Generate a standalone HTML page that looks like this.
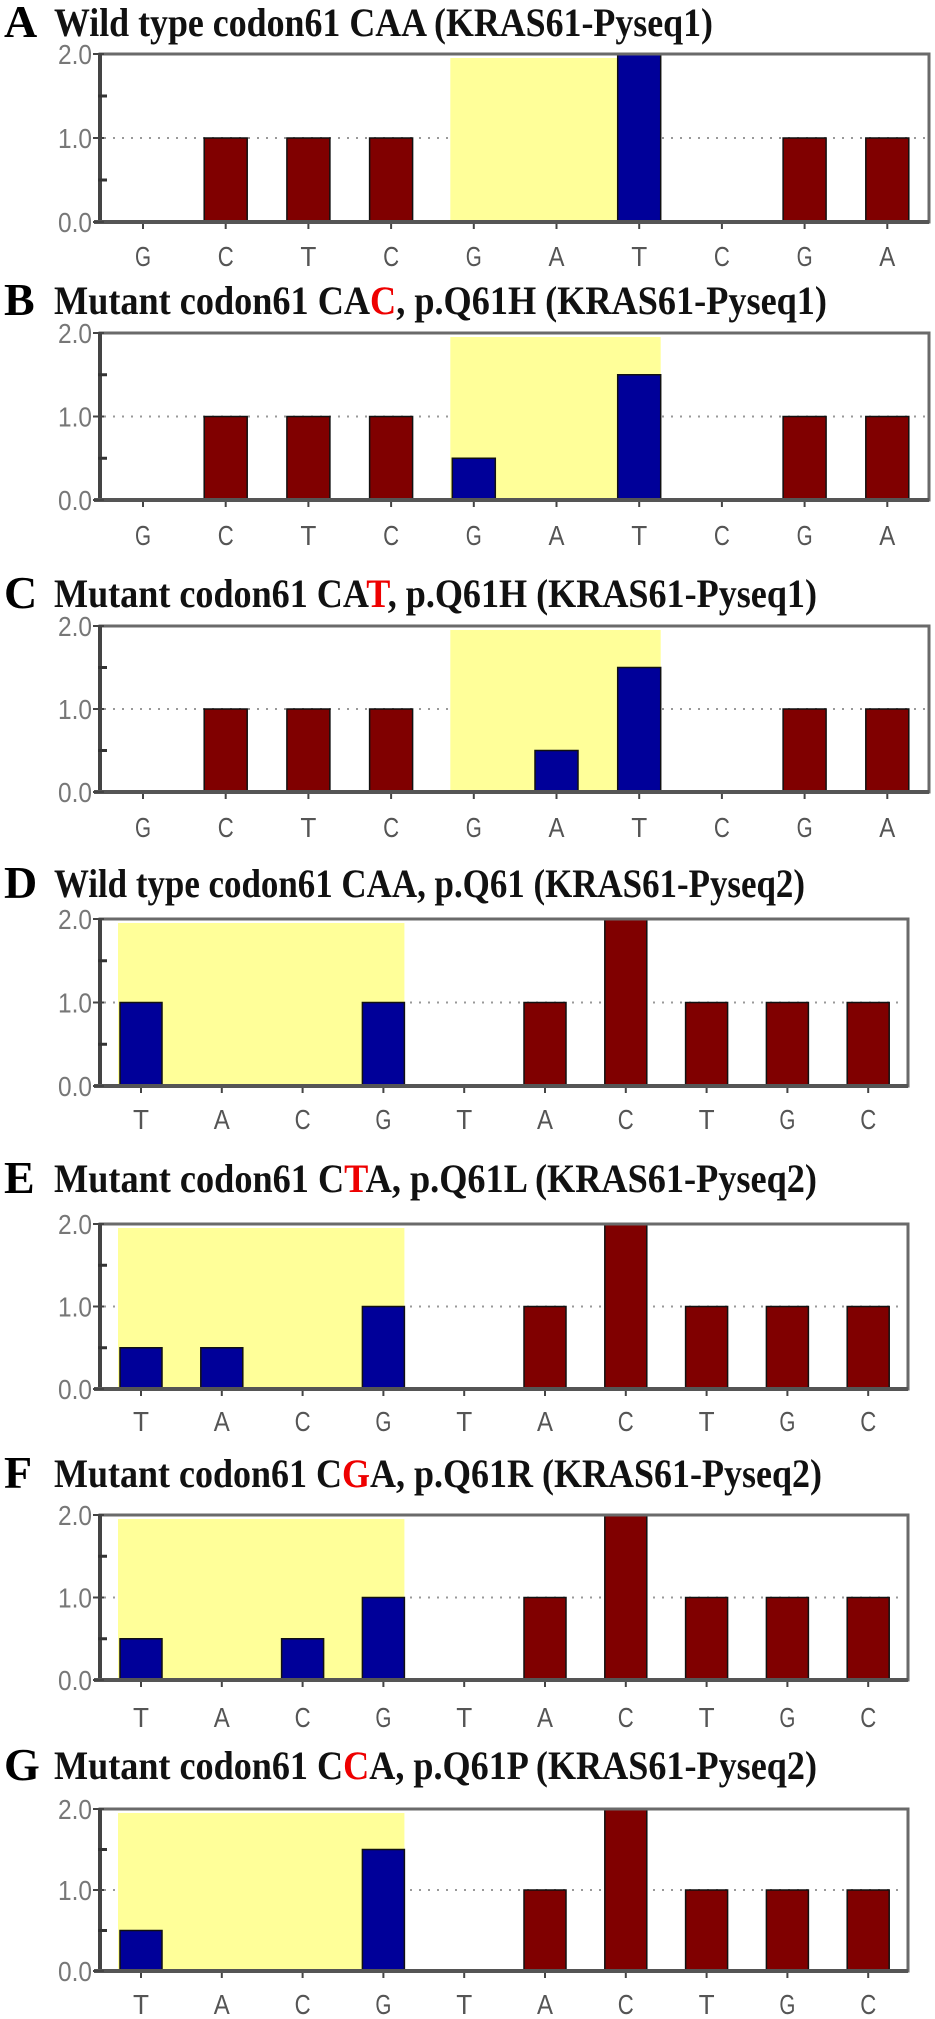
<!DOCTYPE html>
<html><head><meta charset="utf-8">
<style>
html,body{margin:0;padding:0;background:#fff;}
svg{display:block;}
</style></head>
<body>
<svg id="chart" width="935" height="2019" viewBox="0 0 935 2019" xmlns="http://www.w3.org/2000/svg"></svg>
<script>
// ---- data ----
const labels1 = ["G","C","T","C","G","A","T","C","G","A"];
const labels2 = ["T","A","C","G","T","A","C","T","G","C"];
const valuesA = [0,1,1,1,0,0,2,0,1,1];
const valuesB = [0,1,1,1,0.5,0,1.5,0,1,1];
const valuesC = [0,1,1,1,0,0.5,1.5,0,1,1];
const valuesD = [1,0,0,1,0,1,2,1,1,1];
const valuesE = [0.5,0.5,0,1,0,1,2,1,1,1];
const valuesF = [0.5,0,0.5,1,0,1,2,1,1,1];
const valuesG = [0.5,0,0,1.5,0,1,2,1,1,1];
const yTicks = [0,1,2];
const yTickLabels = ["0.0","1.0","2.0"];
const highlight1 = [4,6];
const highlight2 = [0,3];
const titleLetters = ["A","B","C","D","E","F","G"];
const titleTexts = [
  [["Wild type codon61 CAA (KRAS61-Pyseq1)",0]],
  [["Mutant codon61 CA",0],["C",1],[", p.Q61H (KRAS61-Pyseq1)",0]],
  [["Mutant codon61 CA",0],["T",1],[", p.Q61H (KRAS61-Pyseq1)",0]],
  [["Wild type codon61 CAA, p.Q61 (KRAS61-Pyseq2)",0]],
  [["Mutant codon61 C",0],["T",1],["A, p.Q61L (KRAS61-Pyseq2)",0]],
  [["Mutant codon61 C",0],["G",1],["A, p.Q61R (KRAS61-Pyseq2)",0]],
  [["Mutant codon61 C",0],["C",1],["A, p.Q61P (KRAS61-Pyseq2)",0]]
];

// ---- layout ----
const panels = [
  {v:valuesA, lab:labels1, hl:highlight1, top:54,  bot:222,  ly:266,  ty:22,   right:929, c0:143, step:82.7, bw:43, tEnd:713},
  {v:valuesB, lab:labels1, hl:highlight1, top:333, bot:500,  ly:545,  ty:300,  right:929, c0:143, step:82.7, bw:43, tEnd:827},
  {v:valuesC, lab:labels1, hl:highlight1, top:626, bot:792,  ly:837,  ty:593,  right:929, c0:143, step:82.7, bw:43, tEnd:817},
  {v:valuesD, lab:labels2, hl:highlight2, top:919, bot:1086, ly:1129, ty:883,  right:908, c0:141, step:80.8, bw:42, tEnd:805},
  {v:valuesE, lab:labels2, hl:highlight2, top:1224,bot:1389, ly:1431, ty:1178, right:908, c0:141, step:80.8, bw:42, tEnd:817},
  {v:valuesF, lab:labels2, hl:highlight2, top:1515,bot:1680, ly:1727, ty:1473, right:908, c0:141, step:80.8, bw:42, tEnd:822},
  {v:valuesG, lab:labels2, hl:highlight2, top:1809,bot:1971, ly:2014, ty:1765, right:908, c0:141, step:80.8, bw:42, tEnd:817}
];
const svg = document.getElementById('chart');
const NS = "http://www.w3.org/2000/svg";
function mk(tag, attrs, parent){
  const e = document.createElementNS(NS, tag);
  for (const k in attrs) e.setAttribute(k, attrs[k]);
  (parent||svg).appendChild(e);
  return e;
}
const LEFT = 100;

panels.forEach((p, pi) => {
  const g = mk('g', {});
  
  
  const yScale = v => p.bot - (v/2) * (p.bot - p.top);
  const xScale = i => p.c0 + i * p.step;

  // title
  const t = mk('text', {x:4, y:p.ty+15, 'font-family':'"Liberation Serif", serif', 'font-weight':'bold', 'font-size':46, fill:'#000'}, g);
  
  
  t.textContent = titleLetters[pi];
  const t2 = mk('text', {x:54, y:p.ty+14, 'font-family':'"Liberation Serif", serif', 'font-weight':'bold', 'font-size':40, fill:'#111', textLength:(p.tEnd-54), lengthAdjust:'spacingAndGlyphs'}, g);
  
  
  titleTexts[pi].forEach(part => {
    const s = mk('tspan', {fill: part[1] ? '#ee0000' : '#111'}, t2);
    s.textContent = part[0];
  });

  // dotted gridline at 1.0
  const gl = mk('line', {x1:LEFT+4, x2:p.right-3, y1:yScale(1), y2:yScale(1), stroke:'#999', 'stroke-width':2, 'stroke-dasharray':'2 7'}, g);
  
  

  // highlight region
  const hx0 = xScale(p.hl[0]) - p.bw/2 - 2;
  const hx1 = xScale(p.hl[1]) + p.bw/2;
  const hr = mk('rect', {x:hx0, y:p.top+4, width:hx1-hx0, height:p.bot-p.top-4, fill:'#ffff99'}, g);
  
  

  // bars
  p.v.forEach((val, i) => {
    const ticky = mk('line', {x1:xScale(i), x2:xScale(i), y1:p.bot, y2:p.bot+7, stroke:'#444', 'stroke-width':2}, g);
    
    
    if (val > 0) {
      const inHl = i >= p.hl[0] && i <= p.hl[1];
      const b = mk('rect', {x:xScale(i)-p.bw/2, y:yScale(val), width:p.bw, height:p.bot-yScale(val), fill: inHl ? '#000099' : '#800000', stroke:'#111', 'stroke-width':1.5}, g);
      
      
    }
    const xl = mk('text', {x:xScale(i), y:p.ly, 'text-anchor':'middle', 'font-family':'"Liberation Sans", sans-serif', 'font-size':28, fill:'#555', textLength:16, lengthAdjust:'spacingAndGlyphs'}, g);
    
    
    xl.textContent = p.lab[i];
  });

  // frame
  const fr = mk('rect', {x:LEFT, y:p.top, width:p.right-LEFT, height:p.bot-p.top, fill:'none', stroke:'#6a6a6a', 'stroke-width':3}, g);
  
  
  const ax = mk('line', {x1:LEFT, x2:LEFT, y1:p.top, y2:p.bot, stroke:'#444', 'stroke-width':4}, g);
  
  
  const bx = mk('line', {x1:LEFT-6, x2:p.right, y1:p.bot, y2:p.bot, stroke:'#555', 'stroke-width':4}, g);
  
  

  // y ticks
  yTicks.forEach((tv, k) => {
    const tk = mk('line', {x1:LEFT-7, x2:LEFT+4, y1:yScale(tv), y2:yScale(tv), stroke:'#444', 'stroke-width':2}, g);
    
    
    const tl = mk('text', {x:92, y:yScale(tv)+10, 'text-anchor':'end', 'font-family':'"Liberation Sans", sans-serif', 'font-size':28, fill:'#777', textLength:34, lengthAdjust:'spacingAndGlyphs'}, g);
    
    
    tl.textContent = yTickLabels[k];
  });
  [0.5, 1.5].forEach(mv => {
    const mt = mk('line', {x1:LEFT-2, x2:LEFT+7, y1:yScale(mv), y2:yScale(mv), stroke:'#333', 'stroke-width':3}, g);
    
    
  });
});
</script>
</body></html>
